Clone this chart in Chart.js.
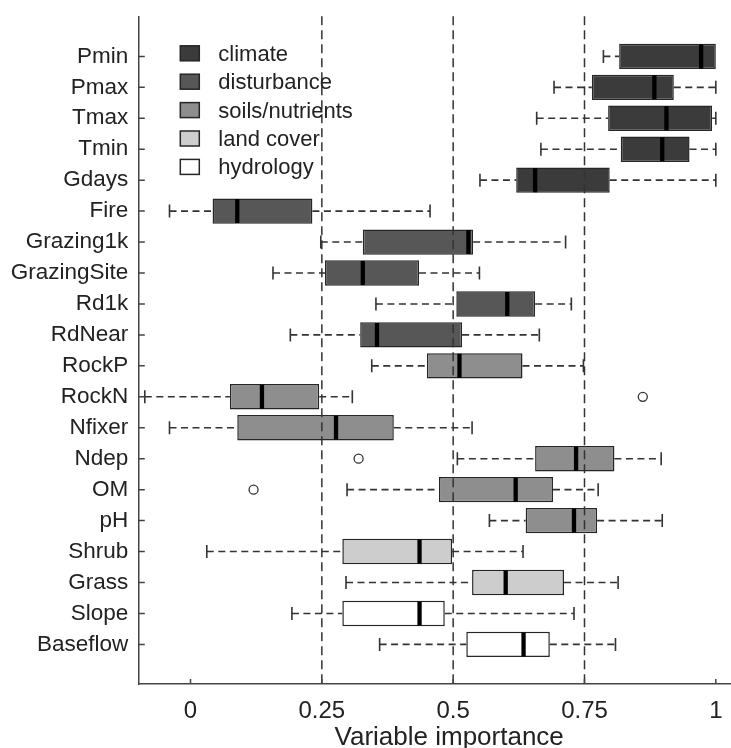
<!DOCTYPE html>
<html><head><meta charset="utf-8">
<script src="https://cdn.jsdelivr.net/npm/chart.js@4"></script>
<style>html,body{margin:0;padding:0;background:#fff;overflow:hidden}#wrap{width:731px;height:748px}canvas{display:block}</style>
</head><body><div id="wrap"><canvas id="c" width="731" height="748"></canvas></div>
<script>
const categories = ['Pmin','Pmax','Tmax','Tmin','Gdays','Fire','Grazing1k','GrazingSite','Rd1k','RdNear','RockP','RockN','Nfixer','Ndep','OM','pH','Shrub','Grass','Slope','Baseflow'];
const groupOf = ['climate','climate','climate','climate','climate',
  'disturbance','disturbance','disturbance','disturbance','disturbance',
  'soils/nutrients','soils/nutrients','soils/nutrients','soils/nutrients','soils/nutrients','soils/nutrients',
  'land cover','land cover','hydrology','hydrology'];
const whiskerLow  = [0.786,0.692,0.659,0.667,0.551,-0.040,0.248,0.157,0.353,0.190,0.345,-0.087,-0.040,0.508,0.298,0.569,0.031,0.296,0.193,0.360];
const q1          = [0.816,0.764,0.795,0.819,0.620, 0.042,0.328,0.256,0.506,0.323,0.450, 0.075, 0.089,0.656,0.473,0.638,0.289,0.536,0.289,0.525];
const median      = [0.972,0.883,0.906,0.898,0.656, 0.089,0.529,0.328,0.603,0.355,0.512, 0.136, 0.277,0.734,0.619,0.730,0.436,0.600,0.436,0.634];
const q3          = [1.000,0.920,0.993,0.950,0.798, 0.232,0.538,0.435,0.656,0.517,0.632, 0.245, 0.387,0.807,0.690,0.774,0.498,0.711,0.484,0.684];
const whiskerHigh = [1.000,1.000,1.000,1.000,1.000, 0.456,0.714,0.550,0.725,0.664,0.748, 0.308, 0.536,0.896,0.776,0.898,0.633,0.814,0.730,0.809];
const outlierCategory = ['RockN','Ndep','OM'];
const outlierValue = [0.861,0.320,0.120];
const groups = ['climate','disturbance','soils/nutrients','land cover','hydrology'];
const groupColors = ['#3b3b3b','#575757','#8e8e8e','#cdcdcd','#ffffff'];
const xTickValues = [0,0.25,0.5,0.75,1];
const xTickLabels = ['0','0.25','0.5','0.75','1'];
const refLines = [0.25,0.5,0.75];
const xTitle = 'Variable importance';

const FONT = '"Liberation Sans", Arial, sans-serif';
Chart.defaults.font.family = FONT;
Chart.defaults.color = '#222';

const barSets = groups.map((g, gi) => ({
  type: 'bar', label: g, indexAxis: 'y', order: 4,
  data: categories.map((c, i) => groupOf[i] === g ? {x: [q1[i], q3[i]], y: i} : null).filter(Boolean),
  backgroundColor: groupColors[gi], borderColor: '#262626', borderWidth: 1.5, borderSkipped: false,
  grouped: false, barPercentage: 0.82, categoryPercentage: 1
}));

const whiskerPts = [];
categories.forEach((c, i) => {
  whiskerPts.push({x: whiskerLow[i], y: i}, {x: q1[i], y: i}, {x: NaN, y: i},
                  {x: q3[i], y: i}, {x: whiskerHigh[i], y: i}, {x: NaN, y: i});
});
const capPts = [];
categories.forEach((c, i) => {
  if (whiskerLow[i] < q1[i]) capPts.push({x: whiskerLow[i], y: i});
  if (whiskerHigh[i] > q3[i]) capPts.push({x: whiskerHigh[i], y: i});
});

const datasets = [
  {type: 'line', label: 'whiskers', indexAxis: 'y', order: 5, data: whiskerPts, spanGaps: false,
   borderColor: '#333', borderWidth: 1.6, borderDash: [7, 4.5], pointRadius: 0, fill: false},
  ...barSets,
  {type: 'line', label: 'caps', indexAxis: 'y', order: 2, data: capPts, showLine: false,
   pointStyle: 'line', rotation: 90, pointRadius: 6.5, pointBorderWidth: 1.6, pointBorderColor: '#333'},
  {type: 'line', label: 'medians', indexAxis: 'y', order: 1, showLine: false,
   data: categories.map((c, i) => ({x: median[i], y: i})),
   pointStyle: 'line', rotation: 90, pointRadius: 12, pointBorderWidth: 4.3, pointBorderColor: '#000'},
  {type: 'line', label: 'outliers', indexAxis: 'y', order: 0, showLine: false,
   data: outlierCategory.map((c, k) => ({x: outlierValue[k], y: categories.indexOf(c)})),
   pointStyle: 'circle', pointRadius: 4.5, pointBorderWidth: 1.3, pointBorderColor: '#333', pointBackgroundColor: '#fff'}
];

const decorPlugin = {
  id: 'decor',
  afterLayout(chart) {
    // let the plot area and the x axis run to the right edge of the canvas, as in the reference
    const a = chart.chartArea, x = chart.scales.x;
    a.right = chart.width; a.width = a.right - a.left;
    x.right = chart.width; x.width = x.right - x.left;
    x.configure();
  },
  afterDatasetsDraw(chart) {
    const {ctx, chartArea: a, scales: {x}} = chart;
    ctx.save();
    ctx.strokeStyle = '#333'; ctx.lineWidth = 1.5; ctx.setLineDash([9, 5]);
    refLines.forEach(v => {
      const px = x.getPixelForValue(v);
      ctx.beginPath(); ctx.moveTo(px, a.top); ctx.lineTo(px, a.bottom); ctx.stroke();
    });
    ctx.restore();
  },
  afterDraw(chart) {
    const {ctx, chartArea: a, scales: {x, y}} = chart;
    ctx.save();
    ctx.strokeStyle = '#444'; ctx.lineWidth = 1.5;
    ctx.beginPath();
    categories.forEach((c, i) => { const py = y.getPixelForValue(i); ctx.moveTo(a.left, py); ctx.lineTo(a.left + 6.5, py); });
    xTickValues.forEach(v => { const px = x.getPixelForValue(v); ctx.moveTo(px, a.bottom); ctx.lineTo(px, a.bottom - 5); });
    ctx.stroke();
    // legend
    const x0 = a.left + 42, y0 = a.top + 37, step = 28.4;
    ctx.font = '22px ' + FONT;
    ctx.textBaseline = 'middle'; ctx.textAlign = 'left';
    groups.forEach((g, k) => {
      const cy = y0 + k * step;
      ctx.fillStyle = groupColors[k]; ctx.fillRect(x0, cy - 7.5, 19, 15);
      ctx.strokeStyle = '#262626'; ctx.lineWidth = 1.5; ctx.strokeRect(x0, cy - 7.5, 19, 15);
      ctx.fillStyle = '#222'; ctx.fillText(g, x0 + 38, cy + 1.5);
    });
    // axis title
    ctx.font = '26px ' + FONT;
    ctx.textAlign = 'center'; ctx.textBaseline = 'alphabetic';
    ctx.fillStyle = '#222';
    ctx.fillText(xTitle, x.getPixelForValue(0.5) - 4, 745);
    ctx.restore();
  }
};

function zeroPad(s) { s.paddingLeft = 0; s.paddingRight = 0; s.paddingTop = 0; s.paddingBottom = 0; }
const noPadding = {
  id: 'noPadding',
  beforeLayout(chart) {
    Object.values(chart.scales).forEach(s => { s.getPadding = () => ({left: 0, top: 0, right: 0, bottom: 0}); });
  }
};

new Chart(document.getElementById('c'), {
  type: 'bar',
  data: {datasets},
  options: {
    indexAxis: 'y',
    responsive: false, animation: false, events: [], devicePixelRatio: 1,
    layout: {padding: {top: 14, right: 0, bottom: 0, left: 0}},
    plugins: {legend: {display: false}, tooltip: {enabled: false}},
    scales: {
      x: {
        type: 'linear', min: -0.0994, max: 1.0289, offset: false,
        afterBuildTicks: s => { s.ticks = xTickValues.map(v => ({value: v})); },
        afterFit: s => { s.height = 64; zeroPad(s); },
        ticks: {callback: (v, i) => xTickLabels[i], font: {size: 24, lineHeight: 2.3}, color: '#222', padding: 0, autoSkip: false, maxRotation: 0},
        grid: {display: false, drawTicks: false, offset: false},
        border: {display: true, color: '#444', width: 1.5}
      },
      y: {
        type: 'linear', reverse: true, min: -1.295, max: 20.28, offset: false,
        afterBuildTicks: s => { s.ticks = categories.map((c, i) => ({value: i})); },
        afterFit: s => { s.width = 138.3; zeroPad(s); },
        ticks: {callback: (v, i) => categories[i], font: {size: 22.5}, color: '#222', padding: 10, autoSkip: false},
        grid: {display: false, drawTicks: false, offset: false},
        border: {display: true, color: '#444', width: 1.5}
      }
    }
  },
  plugins: [decorPlugin, noPadding]
});
</script>
</body></html>
